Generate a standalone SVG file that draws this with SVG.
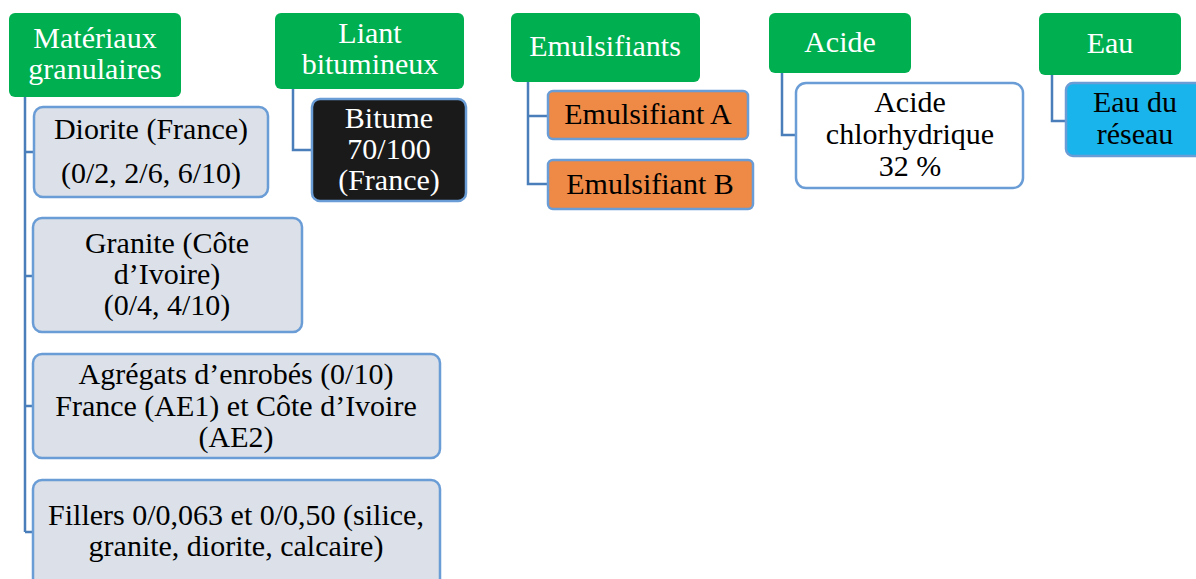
<svg xmlns="http://www.w3.org/2000/svg" width="1196" height="579" viewBox="0 0 1196 579" font-family="Liberation Serif" font-size="30" text-anchor="middle">
<style>
text{font-family:'Liberation Serif','Times New Roman',serif !important;font-size:30px;text-anchor:middle}
.hd rect{fill:#00B050}
.hd text{fill:#FFFFFF}
.ch rect{stroke:#6A9CD6;stroke-width:2.5}
.grey{fill:#DBE0E9}
.dark{fill:#1A1A1A}
.orange{fill:#EE8A46}
.white{fill:#FFFFFF}
.blue{fill:#1AB4EC}
.ch text{fill:#000000}
.ch text.wt{fill:#FFFFFF}
#connectors path{fill:none;stroke:#4A7EBB;stroke-width:2.5}
</style>
<rect width="1196" height="579" fill="#FFFFFF"/>
<g id="connectors">
<path d="M25 97 V532 M25 152 H34 M25 276 H34 M25 406 H34 M25 532 H34"/>
<path d="M293 89 V150 H312"/>
<path d="M528 82 V184 H548 M528 116 H548"/>
<path d="M782 73 V135 H796"/>
<path d="M1052 75 V121 H1066"/>
</g>
<g id="h-materiaux" class="hd" font-family="Liberation Serif"><rect x="9" y="13" width="172" height="84" rx="6"/><text font-family="Liberation Serif" x="95" y="48">Matériaux</text><text font-family="Liberation Serif" x="95" y="79">granulaires</text></g>
<g id="h-liant" class="hd" font-family="Liberation Serif"><rect x="275" y="13" width="189" height="76" rx="6"/><text font-family="Liberation Serif" x="370" y="43">Liant</text><text font-family="Liberation Serif" x="370" y="74">bitumineux</text></g>
<g id="h-emulsifiants" class="hd" font-family="Liberation Serif"><rect x="511" y="13" width="189" height="69" rx="6"/><text font-family="Liberation Serif" x="605" y="56">Emulsifiants</text></g>
<g id="h-acide" class="hd" font-family="Liberation Serif"><rect x="769" y="13" width="142" height="60" rx="6"/><text font-family="Liberation Serif" x="840" y="52">Acide</text></g>
<g id="h-eau" class="hd" font-family="Liberation Serif"><rect x="1039" y="13" width="142" height="62" rx="6"/><text font-family="Liberation Serif" x="1110" y="53">Eau</text></g>
<g id="n-diorite" class="ch" font-family="Liberation Serif"><rect class="grey" x="34" y="107" width="234" height="90" rx="9"/><text font-family="Liberation Serif" x="151" y="139">Diorite (France)</text><text font-family="Liberation Serif" x="151" y="183">(0/2, 2/6, 6/10)</text></g>
<g id="n-granite" class="ch" font-family="Liberation Serif"><rect class="grey" x="33" y="218" width="269" height="114" rx="9"/><text font-family="Liberation Serif" x="167" y="253">Granite (Côte</text><text font-family="Liberation Serif" x="167" y="284">d’Ivoire)</text><text font-family="Liberation Serif" x="167" y="315">(0/4, 4/10)</text></g>
<g id="n-agregats" class="ch" font-family="Liberation Serif"><rect class="grey" x="33" y="354" width="407" height="104" rx="9"/><text font-family="Liberation Serif" x="236" y="384">Agrégats d’enrobés (0/10)</text><text font-family="Liberation Serif" x="236" y="416">France (AE1) et Côte d’Ivoire</text><text font-family="Liberation Serif" x="236" y="447">(AE2)</text></g>
<g id="n-fillers" class="ch" font-family="Liberation Serif"><rect class="grey" x="33" y="480" width="407" height="112" rx="9"/><text font-family="Liberation Serif" x="236" y="525">Fillers 0/0,063 et 0/0,50 (silice,</text><text font-family="Liberation Serif" x="236" y="556">granite, diorite, calcaire)</text></g>
<g id="n-bitume" class="ch" font-family="Liberation Serif"><rect class="dark" x="312" y="99" width="154" height="102" rx="8"/><text font-family="Liberation Serif" class="wt" x="389" y="128">Bitume</text><text font-family="Liberation Serif" class="wt" x="389" y="159">70/100</text><text font-family="Liberation Serif" class="wt" x="389" y="190">(France)</text></g>
<g id="n-emulsA" class="ch" font-family="Liberation Serif"><rect class="orange" x="548" y="91" width="200" height="48" rx="5"/><text font-family="Liberation Serif" x="648" y="124">Emulsifiant A</text></g>
<g id="n-emulsB" class="ch" font-family="Liberation Serif"><rect class="orange" x="548" y="160" width="205" height="49" rx="5"/><text font-family="Liberation Serif" x="650" y="194">Emulsifiant B</text></g>
<g id="n-acide" class="ch" font-family="Liberation Serif"><rect class="white" x="796" y="83" width="227" height="105" rx="10"/><text font-family="Liberation Serif" x="910" y="112">Acide</text><text font-family="Liberation Serif" x="910" y="144">chlorhydrique</text><text font-family="Liberation Serif" x="910" y="176">32 %</text></g>
<g id="n-eau" class="ch" font-family="Liberation Serif"><rect class="blue" x="1066" y="83" width="140" height="73" rx="7"/><text font-family="Liberation Serif" x="1135" y="112">Eau du</text><text font-family="Liberation Serif" x="1135" y="144">réseau</text></g>
</svg>
